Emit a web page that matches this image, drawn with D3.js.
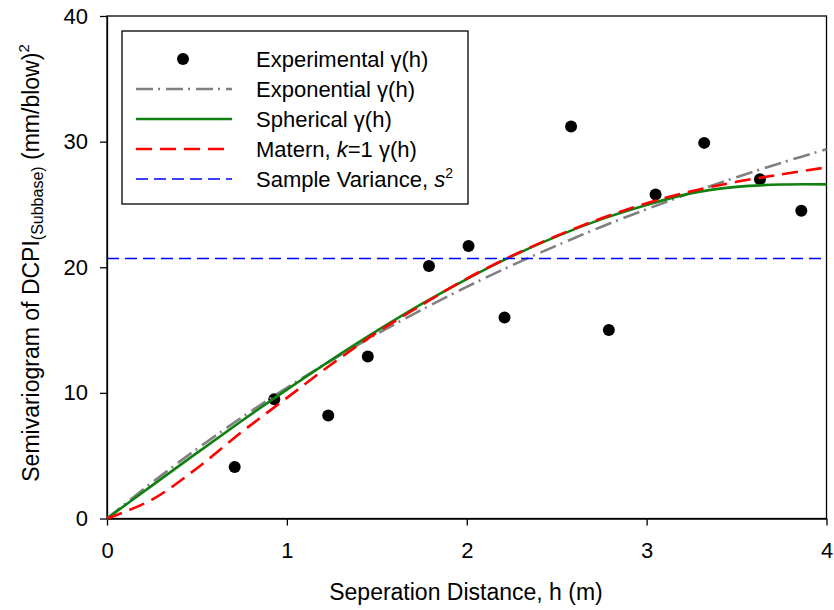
<!DOCTYPE html>
<html>
<head>
<meta charset="utf-8">
<script src="https://cdn.jsdelivr.net/npm/d3@7"></script>
<style>
  body { margin: 0; background: #fff; }
  svg text { font-family: "Liberation Sans", Arial, sans-serif; fill: #000; }
</style>
</head>
<body>
<div id="chart"></div>
<script>
// experimental semivariogram points
const hExp = [0.71, 0.93, 1.23, 1.45, 1.79, 2.01, 2.21, 2.58, 2.79, 3.05, 3.32, 3.63, 3.86];
const gammaExp = [4.1, 9.5, 8.2, 12.9, 20.1, 21.7, 16.0, 31.2, 15.0, 25.8, 29.9, 27.0, 24.5];

// fitted models
const hGrid = [0, 0.25, 0.5, 0.75, 1, 1.25, 1.5, 1.75, 2, 2.25, 2.5, 2.75, 3, 3.25, 3.5, 3.75, 4];
const exponential = [0, 2.86, 5.54, 8.05, 10.41, 12.61, 14.68, 16.62, 18.44, 20.14, 21.73, 23.23, 24.62, 25.94, 27.17, 28.32, 29.40];
const spherical = [0, 2.62, 5.22, 7.78, 10.26, 12.65, 14.93, 17.08, 19.06, 20.87, 22.46, 23.83, 24.96, 25.90, 26.40, 26.59, 26.60];
const matern = [0, 1.5, 4.0, 6.9, 9.6, 12.3, 14.8, 17.0, 19.1, 20.9, 22.5, 23.9, 25.1, 26.05, 26.8, 27.4, 27.95];
const sampleVariance = 20.7;

const xTicks = [0, 1, 2, 3, 4];
const yTicks = [0, 10, 20, 30, 40];

const margin = {top: 16, right: 8, bottom: 92, left: 107},
    width = 834 - margin.left - margin.right,
    height = 610 - margin.top - margin.bottom;

const svg = d3.select("#chart")
    .append("svg")
    .attr("width", 834)
    .attr("height", 610)
    .append("g")
    .attr("transform", `translate(${margin.left},${margin.top})`);

const x = d3.scaleLinear().domain([0, 4]).range([0, 719.5]);
const y = d3.scaleLinear().domain([0, 40]).range([502.5, 0]);

// frame
svg.append("rect")
    .attr("x", 0).attr("y", 0)
    .attr("width", x(4)).attr("height", y(0))
    .attr("fill", "none")
    .attr("stroke", "#000")
    .attr("stroke-width", 1.3);

const xAxis = svg.append("g")
    .attr("transform", `translate(0,${y(0)})`)
    .call(d3.axisBottom(x).tickValues(xTicks).tickSize(7).tickSizeOuter(0).tickPadding(17).tickFormat(d3.format("d")));

const yAxis = svg.append("g")
    .call(d3.axisLeft(y).tickValues(yTicks).tickSize(7).tickSizeOuter(0).tickPadding(12));

[xAxis, yAxis].forEach(a => {
    a.attr("font-family", null).attr("font-size", null);
    a.selectAll("path, line").attr("stroke", "#000").attr("stroke-width", 1.3);
    a.selectAll("text").style("font-size", "22px");
});

const pts = hExp.map((h, i) => ({h: h, g: gammaExp[i]}));

svg.append("g").selectAll("circle")
    .data(pts)
    .enter()
    .append("circle")
    .attr("cx", d => x(d.h))
    .attr("cy", d => y(d.g))
    .attr("r", 6)
    .attr("fill", "#000");

const line = d3.line()
    .x(d => x(d[0]))
    .y(d => y(d[1]))
    .curve(d3.curveCatmullRom);

const models = [
    {values: exponential, color: "#808080", dash: "17,5,2,6", width: 2.6},
    {values: spherical, color: "#108010", dash: null, width: 2.6},
    {values: matern, color: "#ff0000", dash: "16,8", width: 2.6}
];

models.forEach(m => {
    svg.append("path")
        .datum(hGrid.map((h, i) => [h, m.values[i]]))
        .attr("fill", "none")
        .attr("stroke", m.color)
        .attr("stroke-width", m.width)
        .attr("stroke-dasharray", m.dash)
        .attr("d", line);
});

svg.append("line")
    .attr("x1", x(0)).attr("x2", x(4))
    .attr("y1", y(sampleVariance)).attr("y2", y(sampleVariance))
    .attr("stroke", "#0000ff")
    .attr("stroke-width", 1.6)
    .attr("stroke-dasharray", "12,6");

// legend
const legend = svg.append("g").attr("transform", `translate(${122 - margin.left},${31 - margin.top})`);
legend.append("rect")
    .attr("width", 346).attr("height", 173)
    .attr("fill", "#fff")
    .attr("stroke", "#000")
    .attr("stroke-width", 1.3);

const rowY = [28, 58, 88, 118, 148];
legend.append("circle").attr("cx", 61).attr("cy", rowY[0]).attr("r", 6).attr("fill", "#000");
const legendLines = [
    {color: "#808080", dash: "17,5,2,6", width: 2.6},
    {color: "#108010", dash: null, width: 2.6},
    {color: "#ff0000", dash: "16,8", width: 2.6},
    {color: "#0000ff", dash: "12,6", width: 1.6}
];
legendLines.forEach((l, i) => {
    legend.append("line")
        .attr("x1", 14).attr("x2", 110)
        .attr("y1", rowY[i + 1]).attr("y2", rowY[i + 1])
        .attr("stroke", l.color)
        .attr("stroke-width", l.width)
        .attr("stroke-dasharray", l.dash);
});

const labels = [
    [{t: "Experimental γ(h)"}],
    [{t: "Exponential γ(h)"}],
    [{t: "Spherical γ(h)"}],
    [{t: "Matern, "}, {t: "k", italic: true}, {t: "=1 γ(h)"}],
    [{t: "Sample Variance, "}, {t: "s", italic: true}, {t: "2", sup: true}]
];
labels.forEach((parts, i) => {
    const txt = legend.append("text")
        .attr("x", 134)
        .attr("y", rowY[i] + 7.5)
        .style("font-size", "22px");
    parts.forEach(p => {
        const ts = txt.append("tspan").text(p.t);
        if (p.italic) ts.style("font-style", "italic");
        if (p.sup) ts.attr("dy", -9).style("font-size", "14px");
    });
});

// axis titles
svg.append("text")
    .attr("x", 466 - margin.left)
    .attr("y", 600 - margin.top)
    .style("text-anchor", "middle")
    .style("font-size", "23px")
    .text("Seperation Distance, h (m)");

const yTitle = svg.append("text")
    .attr("transform", `translate(${39 - margin.left},${263 - margin.top}) rotate(-90)`)
    .style("text-anchor", "middle")
    .style("font-size", "23px");
yTitle.append("tspan").text("Semivariogram of DCPI");
yTitle.append("tspan").attr("dy", 4).style("font-size", "16px").text("(Subbase)");
yTitle.append("tspan").attr("dy", -4).text(" (mm/blow)");
yTitle.append("tspan").attr("dy", -10).style("font-size", "15px").text("2");
</script>
</body>
</html>
